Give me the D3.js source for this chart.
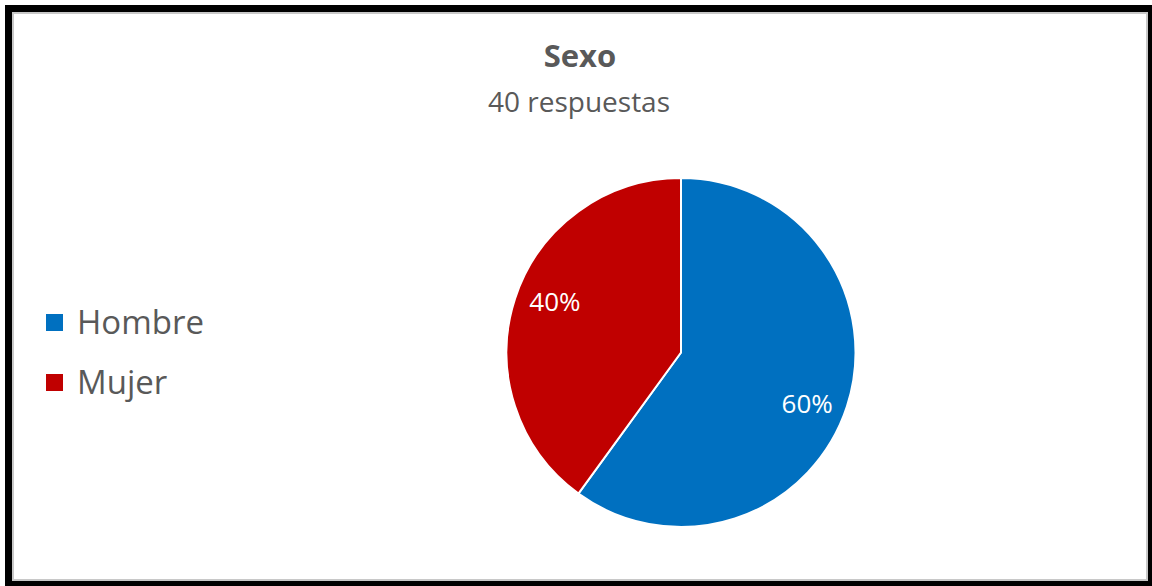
<!DOCTYPE html>
<html><head><meta charset="utf-8">
<script src="https://cdn.jsdelivr.net/npm/d3@7"></script>
<style>html,body{margin:0;padding:0;background:#fff;}svg{display:block;}</style>
</head><body>
<script>
const categories = ["Hombre", "Mujer"];
const values = [60, 40];
const colors = ["#0070C0", "#C00000"];
const title = "Sexo";
const subtitle = "40 respuestas";

const W = 1152, H = 586;
const FONT = "'Open Sans', 'Noto Sans', sans-serif";
const svg = d3.select("body").append("svg").attr("width", W).attr("height", H);

// frame
svg.append("rect").attr("x", 5).attr("y", 5).attr("width", W - 5).attr("height", H - 5).attr("fill", "#000");
svg.append("rect").attr("x", 13).attr("y", 13).attr("width", 1134).attr("height", 567).attr("fill", "#fff")
  .attr("stroke", "#c8c8c8").attr("stroke-width", 2);

svg.append("text").attr("x", 580).attr("y", 67).attr("text-anchor", "middle")
  .attr("font-family", FONT).attr("font-weight", "bold").attr("font-size", 31).attr("fill", "#595959").text(title);
svg.append("text").attr("x", 579).attr("y", 112).attr("text-anchor", "middle")
  .attr("font-family", FONT).attr("font-size", 28).attr("fill", "#595959").text(subtitle);

const cx = 681, cy = 352.5, r = 174.5;
const pie = d3.pie().sort(null).value(d => d)(values);
const arc = d3.arc().innerRadius(0).outerRadius(r);
const labelArc = d3.arc().innerRadius(r * 0.76).outerRadius(r * 0.76);
const totalV = d3.sum(values);
const g = svg.append("g").attr("transform", `translate(${cx},${cy})`);
g.selectAll("path").data(pie).join("path").attr("d", arc)
  .attr("fill", (d, i) => colors[i]).attr("stroke", "#fff").attr("stroke-width", 2);
g.selectAll("text").data(pie).join("text")
  .attr("transform", d => { const c = labelArc.centroid(d); return `translate(${c[0]},${c[1] * 1.25})`; })
  .attr("text-anchor", "middle").attr("dy", "0.36em")
  .attr("font-family", FONT).attr("font-size", 26).attr("fill", "#fff")
  .text(d => Math.round(d.value / totalV * 100) + "%");

// legend
const ly = d3.scalePoint().domain(categories).range([322, 382]);
const lg = svg.append("g");
lg.selectAll("rect").data(categories).join("rect")
  .attr("x", 46).attr("y", d => ly(d) - 8).attr("width", 17).attr("height", 17)
  .attr("fill", (d, i) => colors[i]);
lg.selectAll("text").data(categories).join("text")
  .attr("x", 77).attr("y", d => ly(d)).attr("dy", "0.35em")
  .attr("font-family", FONT).attr("font-size", 33).attr("fill", "#595959").text(d => d);
</script>
</body></html>
